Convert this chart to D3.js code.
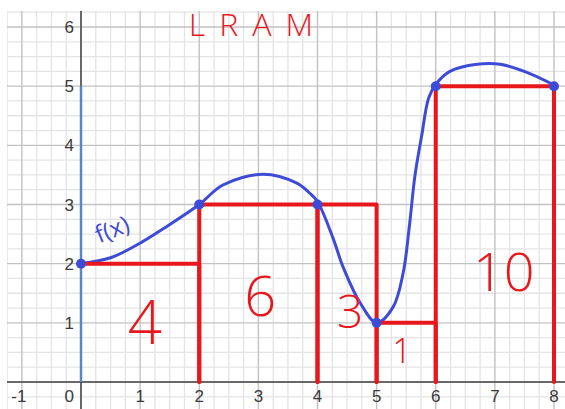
<!DOCTYPE html>
<html>
<head>
<script src="https://cdn.jsdelivr.net/npm/d3@7"></script>
<style>
  body { margin: 0; background: #fff; }
  svg { display: block; }
</style>
</head>
<body>
<svg width="565" height="409"></svg>
<script>
// the function f(x)
var curveX = [0, 0.5, 0.95, 1.45, 2, 2.4, 3.08, 3.65, 3.87, 4, 4.27, 4.43, 4.72, 5, 5.28, 5.45, 5.55, 5.65, 5.76, 5.88, 6, 6.24, 6.7, 7.09, 7.55, 8];
var curveY = [2, 2.1, 2.32, 2.63, 3, 3.33, 3.51, 3.36, 3.19, 3.05, 2.41, 1.95, 1.34, 1, 1.27, 1.85, 2.6, 3.5, 4.15, 4.8, 5.03, 5.25, 5.37, 5.37, 5.23, 5.02];

// sample points (blue dots)
var pointX = [0, 2, 4, 5, 6, 8];
var pointY = [2, 3, 3, 1, 5, 5];

// LRAM rectangles: left end, right end, height = f(left)
var rectLeft = [0, 2, 4, 5, 6];
var rectRight = [2, 4, 5, 6, 8];
var rectHeight = [2, 3, 3, 1, 5];
var areaLabels = ['4', '6', '3', '1', '10'];

var xTicks = [-1, 0, 1, 2, 3, 4, 5, 6, 7, 8];
var yTicks = [1, 2, 3, 4, 5, 6];

var svg = d3.select('svg');
var W = +svg.attr('width'), H = +svg.attr('height');

var x = d3.scaleLinear().domain([0, 8]).range([81, 554]);
var y = d3.scaleLinear().domain([0, 6]).range([382, 27]);

// grid area
var gx0 = 7, gy0 = 11;
svg.append('clipPath').attr('id', 'gridclip')
  .append('rect').attr('x', gx0).attr('y', gy0).attr('width', W - gx0).attr('height', H - gy0);

var grid = svg.append('g').attr('clip-path', 'url(#gridclip)');

var minorX = d3.range(-1.5, 8.51, 0.25).filter(function (d) { return d % 1 !== 0; });
var minorY = d3.range(-1, 6.51, 0.25).filter(function (d) { return d % 1 !== 0; });
var majorX = d3.range(-1, 9, 1);
var majorY = d3.range(-1, 7, 1);

grid.selectAll('.minx').data(minorX).enter().append('line')
  .attr('x1', function (d) { return x(d); }).attr('x2', function (d) { return x(d); })
  .attr('y1', 0).attr('y2', H)
  .attr('stroke', '#e4e4e4').attr('stroke-width', 1.3);
grid.selectAll('.miny').data(minorY).enter().append('line')
  .attr('y1', function (d) { return y(d); }).attr('y2', function (d) { return y(d); })
  .attr('x1', 0).attr('x2', W)
  .attr('stroke', '#e4e4e4').attr('stroke-width', 1.3);
grid.selectAll('.majx').data(majorX).enter().append('line')
  .attr('x1', function (d) { return x(d); }).attr('x2', function (d) { return x(d); })
  .attr('y1', 0).attr('y2', H)
  .attr('stroke', '#c2c2c2').attr('stroke-width', 1.4);
grid.selectAll('.majy').data(majorY).enter().append('line')
  .attr('y1', function (d) { return y(d); }).attr('y2', function (d) { return y(d); })
  .attr('x1', 0).attr('x2', W)
  .attr('stroke', '#c2c2c2').attr('stroke-width', 1.4);

// axes
grid.append('line').attr('x1', 0).attr('x2', W).attr('y1', y(0)).attr('y2', y(0))
  .attr('stroke', '#444').attr('stroke-width', 1.5);
grid.append('line').attr('x1', x(0)).attr('x2', x(0)).attr('y1', 0).attr('y2', H)
  .attr('stroke', '#444').attr('stroke-width', 1.5);

// blue segment on the y axis
svg.append('line').attr('x1', x(0)).attr('x2', x(0)).attr('y1', y(0)).attr('y2', y(5))
  .attr('stroke', '#5b86c0').attr('stroke-width', 2.5);

// tick labels
svg.selectAll('.xlab').data(xTicks).enter().append('text')
  .attr('x', function (d) { return d === 0 ? x(d) - 7 : x(d) - (d < 0 ? 3 : 0); })
  .attr('y', y(0) + 20)
  .attr('text-anchor', function (d) { return d === 0 ? 'end' : 'middle'; })
  .attr('font-family', 'Liberation Sans, Arial, sans-serif')
  .attr('font-size', 17).attr('fill', '#3a3a3a')
  .text(function (d) { return d; });

svg.selectAll('.ylab').data(yTicks).enter().append('text')
  .attr('x', x(0) - 7)
  .attr('y', function (d) { return y(d); })
  .attr('dy', '0.36em')
  .attr('text-anchor', 'end')
  .attr('font-family', 'Liberation Sans, Arial, sans-serif')
  .attr('font-size', 17).attr('fill', '#3a3a3a')
  .text(function (d) { return d; });

// the curve
var curvePts = curveX.map(function (d, i) { return [d, curveY[i]]; });
svg.append('path')
  .datum(curvePts)
  .attr('fill', 'none')
  .attr('stroke', '#3d4bd6')
  .attr('stroke-width', 3)
  .attr('stroke-linecap', 'round')
  .attr('d', d3.line()
    .curve(d3.curveCatmullRom)
    .x(function (d) { return x(d[0]); })
    .y(function (d) { return y(d[1]); }));

// red rectangles (no left edge on the y axis)
var red = '#e8171c';
var rects = rectLeft.map(function (d, i) { return { l: d, r: rectRight[i], h: rectHeight[i] }; });
svg.selectAll('.rect').data(rects).enter().append('path')
  .attr('fill', 'none')
  .attr('stroke', red)
  .attr('stroke-width', 4)
  .attr('stroke-linecap', 'round')
  .attr('stroke-linejoin', 'round')
  .attr('d', function (d) {
    var p = d3.path();
    if (d.l > 0) { p.moveTo(x(d.l), y(0)); p.lineTo(x(d.l), y(d.h)); }
    else { p.moveTo(x(d.l), y(d.h)); }
    p.lineTo(x(d.r), y(d.h));
    p.lineTo(x(d.r), y(0));
    return p.toString();
  });

// blue dots
svg.selectAll('.dot').data(pointX).enter().append('circle')
  .attr('cx', function (d) { return x(d); })
  .attr('cy', function (d, i) { return y(pointY[i]); })
  .attr('r', 5)
  .attr('fill', '#3d4bd6');

// area labels, placed where they were written (data units)
var labelAt = [[1.08, 1.0], [3.03, 1.45], [4.55, 1.2], [5.43, 0.52], [7.15, 1.87]];
var labelSize = [60, 56, 46, 34, 54];
svg.selectAll('.area').data(areaLabels).enter().append('text')
  .attr('x', function (d, i) { return x(labelAt[i][0]); })
  .attr('y', function (d, i) { return y(labelAt[i][1]); })
  .attr('dy', '0.36em')
  .attr('text-anchor', 'middle')
  .attr('font-family', 'Open Sans, Noto Sans, sans-serif')
  .attr('font-weight', 300)
  .attr('font-size', function (d, i) { return labelSize[i]; })
  .attr('fill', red)
  .text(function (d) { return d; });

// f(x) label
svg.append('text')
  .attr('transform', 'translate(' + x(0.58) + ',' + y(2.45) + ') rotate(-22)')
  .attr('text-anchor', 'middle')
  .attr('font-family', 'Open Sans, Noto Sans, sans-serif')
  .attr('font-size', 24)
  .attr('fill', '#3d4bd6')
  .text('f(x)');

// title at the top edge
svg.append('text')
  .attr('x', 258).attr('y', 36)
  .attr('text-anchor', 'middle')
  .attr('font-family', 'Open Sans, Noto Sans, sans-serif')
  .attr('font-weight', 300)
  .attr('font-size', 32)
  .attr('letter-spacing', 14)
  .attr('fill', red)
  .text('LRAM');
</script>
</body>
</html>
